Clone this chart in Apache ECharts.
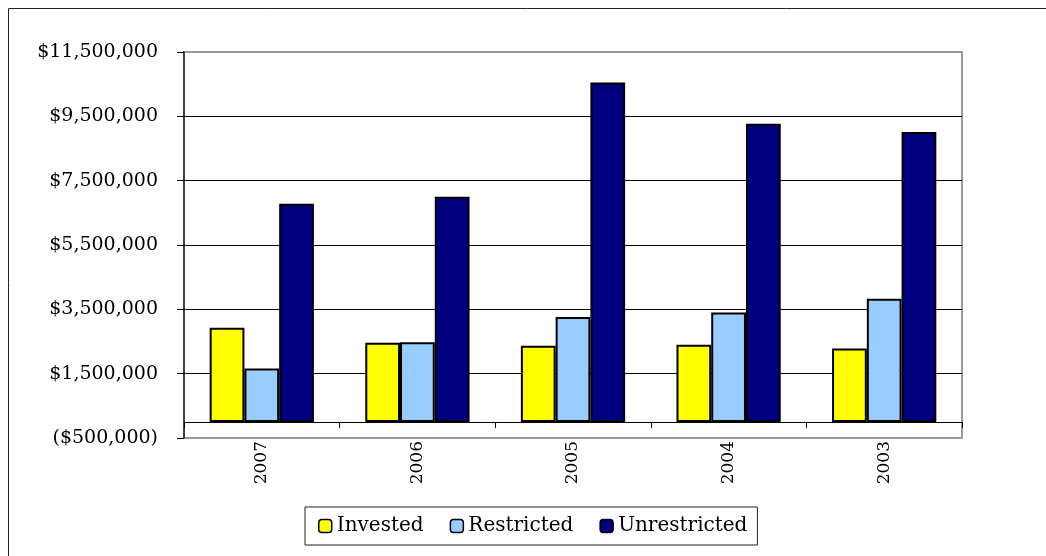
<!DOCTYPE html>
<html>
<head>
<meta charset="utf-8">
<script src="https://cdn.jsdelivr.net/npm/echarts@6/dist/echarts.min.js"></script>
<style>
  html, body { margin: 0; padding: 0; background: #fff; }
  #chart { width: 1046px; height: 556px; }
</style>
</head>
<body>
<div id="chart"></div>
<script>
var years = ["2007", "2006", "2005", "2004", "2003"];
var invested = [2930000, 2460000, 2370000, 2400000, 2280000];
var restricted = [1660000, 2480000, 3260000, 3400000, 3830000];
var unrestricted = [6780000, 7000000, 10550000, 9270000, 9010000];
var seriesNames = ["Invested", "Restricted", "Unrestricted"];

var font = "DejaVu Serif";

function money(v) {
  var s = Math.abs(v).toString().replace(/\B(?=(\d{3})+(?!\d))/g, ",");
  return v < 0 ? "($" + s + ")" : "$" + s;
}

var myChart = echarts.init(document.getElementById("chart"));

function bar(name, data, color) {
  return {
    name: name,
    type: "bar",
    data: data,
    barGap: "0%",
    barCategoryGap: "33%",
    itemStyle: { color: color, borderColor: "#000", borderWidth: 2 },
    emphasis: { disabled: true }
  };
}

var option = {
  animation: false,
  textStyle: { fontFamily: font },
  graphic: [
    { type: "line", shape: { x1: 8.5, y1: 8.5, x2: 8.5, y2: 556 }, style: { stroke: "#222", lineWidth: 1 } },
    { type: "line", shape: { x1: 8.5, y1: 8.5, x2: 1046, y2: 8.5 }, style: { stroke: "#222", lineWidth: 1 } }
  ],
  grid: {
    left: 184,
    right: 84,
    top: 52,
    bottom: 118,
    show: true,
    borderColor: "#999",
    borderWidth: 2
  },
  legend: {
    data: seriesNames,
    left: 305,
    top: 507,
    padding: [9, 10, 9, 13],
    itemGap: 26,
    itemWidth: 13,
    itemHeight: 13,
    borderColor: "#222",
    borderWidth: 1,
    itemStyle: { borderColor: "#000", borderWidth: 1.5 },
    textStyle: { fontFamily: font, fontSize: 20, color: "#000" }
  },
  xAxis: {
    type: "category",
    data: years,
    axisLine: { onZero: true, lineStyle: { color: "#000", width: 1 } },
    axisTick: { show: true, length: 6, lineStyle: { color: "#000" } },
    axisLabel: { rotate: 90, margin: 3, fontSize: 17, color: "#000", fontFamily: font }
  },
  yAxis: {
    type: "value",
    min: -500000,
    max: 11500000,
    interval: 2000000,
    axisLine: { show: true, lineStyle: { color: "#222", width: 1.5 } },
    axisTick: { show: true, length: 7, lineStyle: { color: "#000" } },
    axisLabel: { margin: 26, fontSize: 19, color: "#000", fontFamily: font, formatter: money },
    splitLine: {
      show: true,
      lineStyle: { color: ["#999", "#000", "#000", "#000", "#000", "#000", "#999"], width: 1 }
    }
  },
  series: [
    bar(seriesNames[0], invested, "#FFFF00"),
    bar(seriesNames[1], restricted, "#99CCFF"),
    bar(seriesNames[2], unrestricted, "#000080")
  ]
};

myChart.setOption(option);
</script>
</body>
</html>
